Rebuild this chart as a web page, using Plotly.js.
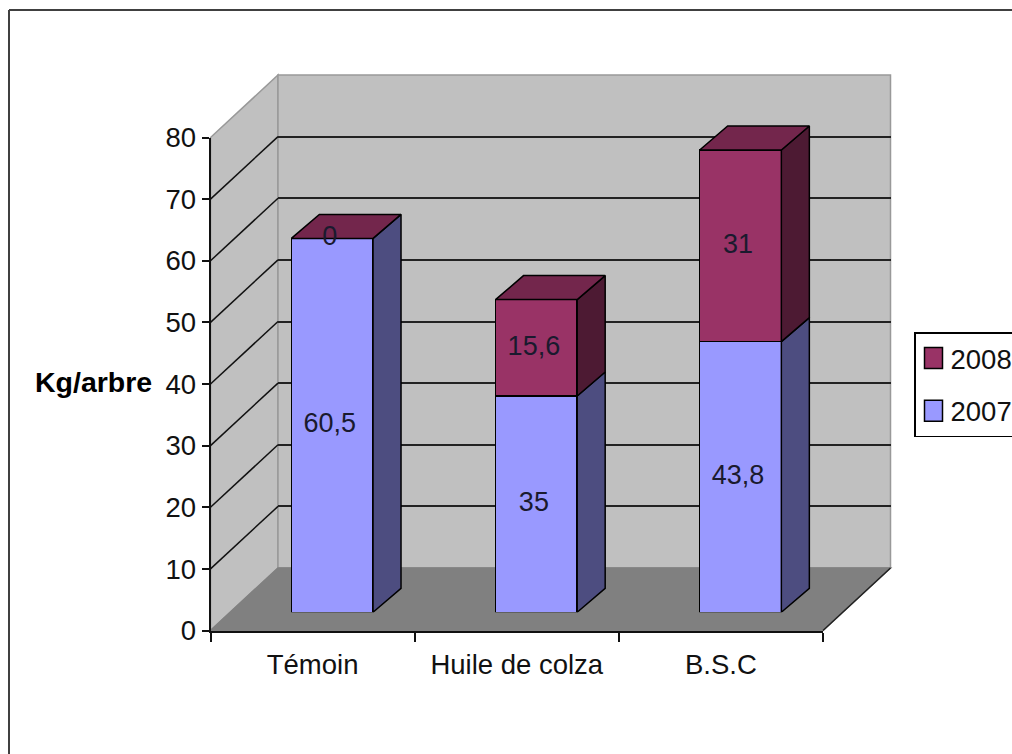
<!DOCTYPE html>
<html>
<head>
<meta charset="utf-8">
<script src="https://cdn.plot.ly/plotly-3.0.1.min.js"></script>
<style>html,body{margin:0;padding:0;background:#fff;overflow:hidden}</style>
</head>
<body>
<div id="chart" style="width:1012px;height:754px"></div>
<script>
const categories = ['Témoin', 'Huile de colza', 'B.S.C'];
const values2007 = [60.5, 35, 43.8];
const values2008 = [0, 15.6, 31];
const yTicks = [0, 10, 20, 30, 40, 50, 60, 70, 80];

const W = 1012, H = 754;
const FONT = '"Liberation Sans",Arial,sans-serif';
const fx = v => v / W, fy = v => 1 - v / H;
const dom = (a, b) => [fx(a), fx(b)];
const domY = (bottom, top) => [fy(bottom), fy(top)];

// front plane of the axes, in pixels
const L = 210.5, R = 823, B = 630.5, T = 137.5;
const wallDx = 67.5, wallDy = -62.5;
const barDx = 19.6, barBottom = 612.3, barPxPerY = 6.18;
const pxPerCat = (R - L) / 3, pxPerY = (B - T) / 80;
const barW = 0.4;
const depthX = 28 / pxPerCat, depthY = 24 / barPxPerY;

const c2007 = '#9999FF', c2008 = '#993366';
const side2007 = '#4D4D80', side2008 = '#4D1A33', top2008 = '#73264C';
const idx = categories.map((_, i) => i);

function sidePolys(base, vals) {
  const xs = [], ys = [];
  idx.forEach(i => {
    if (vals[i] <= 0) return;
    const xr = i + barW / 2, y0 = base[i], y1 = base[i] + vals[i];
    xs.push(xr, xr + depthX, xr + depthX, xr, xr, null);
    ys.push(y0, y0 + depthY, y1 + depthY, y1, y0, null);
  });
  return {xs, ys};
}
function topPolys(base, vals) {
  const xs = [], ys = [];
  idx.forEach(i => {
    const xl = i - barW / 2, xr = i + barW / 2, y = base[i] + vals[i];
    xs.push(xl, xr, xr + depthX, xl + depthX, xl, null);
    ys.push(y, y, y + depthY, y + depthY, y, null);
  });
  return {xs, ys};
}
const zeros = idx.map(() => 0);
const s07 = sidePolys(zeros, values2007);
const s08 = sidePolys(values2007, values2008);
const t08 = topPolys(values2007, values2008);
const poly = (p, color) => ({
  type: 'scatter', mode: 'lines', x: p.xs, y: p.ys, xaxis: 'x3', yaxis: 'y3',
  fill: 'toself', fillcolor: color, line: {color: '#000', width: 1.5},
  showlegend: false, hoverinfo: 'skip'
});
const fmt = v => String(v).replace('.', ',');

const traces = [
  {type: 'scatter', mode: 'none', x: [0, 1], y: [0, 80], xaxis: 'x', yaxis: 'y', showlegend: false, hoverinfo: 'skip'},
  {type: 'scatter', mode: 'none', x: categories, y: zeros, xaxis: 'x2', yaxis: 'y2', showlegend: false, hoverinfo: 'skip'},
  {type: 'bar', name: '2007', legendgroup: 'a', legendrank: 2, x: idx, y: values2007, width: barW, xaxis: 'x3', yaxis: 'y3',
   marker: {color: c2007, line: {color: '#000', width: 1.5}}, hoverinfo: 'skip'},
  {type: 'bar', name: '2008', legendgroup: 'b', legendrank: 1, x: idx, y: values2008, width: barW, xaxis: 'x3', yaxis: 'y3',
   marker: {color: c2008, line: {color: '#000', width: 1.5}}, hoverinfo: 'skip'},
  poly(s07, side2007), poly(s08, side2008), poly(t08, top2008),
  {type: 'scatter', mode: 'text', xaxis: 'x3', yaxis: 'y3', showlegend: false, hoverinfo: 'skip',
   x: idx.concat(idx).map(v => v - 0.012),
   y: values2007.map(v => v / 2).concat(values2008.map((v, i) => values2007[i] + v / 2)),
   text: values2007.concat(values2008).map(fmt),
   textposition: 'middle center',
   textfont: {family: FONT, size: 27, color: '#1a1a2e'}}
];

const paperLine = (x0, y0, x1, y1, color, width) => ({
  type: 'line', xref: 'paper', yref: 'paper', layer: 'below',
  x0: fx(x0), y0: fy(y0), x1: fx(x1), y1: fy(y1), line: {color, width}
});
const paperPath = (pts, fill, lineColor) => ({
  type: 'path', xref: 'paper', yref: 'paper', layer: 'below',
  path: 'M' + pts.map(p => fx(p[0]) + ',' + fy(p[1])).join('L') + 'Z',
  fillcolor: fill, line: {color: lineColor, width: 1.5}
});
const bl = [L + wallDx, B + wallDy], tl = [L + wallDx, T + wallDy];
const br = [R + wallDx, B + wallDy], tr = [R + wallDx, T + wallDy];
const shapes = [
  paperPath([[L, B], bl, tl, [L, T]], '#C0C0C0', '#999999'),
  paperPath([bl, br, tr, tl], '#C0C0C0', '#999999'),
  paperPath([[L, B], [R, B], br, bl], '#808080', '#808080'),
  paperLine(R, B, br[0], br[1], '#222', 1.5),
  paperLine(9, 10, 1100, 10, '#404040', 2),
  paperLine(9, 10, 9, 800, '#404040', 2)
].concat(yTicks.filter(t => t > 0 && t < 80).map(t => {
  const y = B - t * pxPerY;
  return paperLine(L, y, L + wallDx, y + wallDy, '#111', 1.5);
}));

const tickFont = {family: FONT, size: 27.5, color: '#111'};
const layout = {
  width: W, height: H, margin: {l: 0, r: 0, t: 0, b: 0, autoexpand: false},
  paper_bgcolor: '#fff', plot_bgcolor: 'rgba(0,0,0,0)',
  barmode: 'stack', showlegend: true, shapes,
  // back wall: only its grid lines are drawn
  xaxis: {domain: dom(L + wallDx, R + wallDx), visible: false, range: [0, 1], anchor: 'y'},
  yaxis: {domain: domY(B + wallDy, T + wallDy), range: [0, 80], anchor: 'x', tickmode: 'array',
          tickvals: yTicks.filter(t => t > 0 && t < 80), showticklabels: false, ticks: '',
          showline: false, zeroline: false, showgrid: true, gridcolor: '#222', gridwidth: 2},
  // front axes with the ticks and labels
  xaxis2: {domain: dom(L, R), type: 'category', categoryorder: 'array', categoryarray: categories,
           range: [-0.5, 2.5], anchor: 'y2', tickson: 'boundaries', ticks: 'outside', ticklen: 9, tickwidth: 2,
           tickcolor: '#111', showline: true, linecolor: '#111', linewidth: 2, showgrid: false,
           tickfont: tickFont, ticklabelstandoff: 8, tickangle: 0},
  yaxis2: {domain: domY(B, T), range: [0, 80], anchor: 'x2', tickmode: 'array', tickvals: yTicks,
           ticks: 'outside', ticklen: 7, tickwidth: 2, tickcolor: '#111', showline: true, linecolor: '#111',
           linewidth: 2, showgrid: false, zeroline: false, tickfont: tickFont, ticklabelstandoff: 0},
  // plane where the bars stand
  xaxis3: {domain: dom(L + barDx, R + barDx), range: [-0.5, 2.5], visible: false, anchor: 'y3'},
  yaxis3: {domain: domY(barBottom, barBottom - 80 * barPxPerY), range: [0, 80], visible: false, anchor: 'x3'},
  legend: {x: fx(914), y: fy(332), xanchor: 'left', yanchor: 'top', bgcolor: '#fff',
           bordercolor: '#000', borderwidth: 1.5, traceorder: 'grouped', tracegroupgap: 14,
           itemclick: false, itemdoubleclick: false, itemwidth: 30,
           font: {family: FONT, size: 27.5, color: '#111'}},
  annotations: [{xref: 'paper', yref: 'paper', x: fx(93), y: fy(382), xanchor: 'center', yanchor: 'middle',
                 showarrow: false, text: '<b>Kg/arbre</b>', font: {family: FONT, size: 28.5, color: '#000'}}]
};

Plotly.newPlot('chart', traces, layout, {staticPlot: true, displayModeBar: false}).then(gd => {
  // the reference's legend keys are larger and closer to their text than Plotly's default
  gd.querySelectorAll('.legend .legendpoints path').forEach(p => p.setAttribute('d', 'M7,10.5H-11V-10.5H7Z'));
  gd.querySelectorAll('.legend .legendtext').forEach(t => t.setAttribute('x', +t.getAttribute('x') - 5));
});
</script>
</body>
</html>
